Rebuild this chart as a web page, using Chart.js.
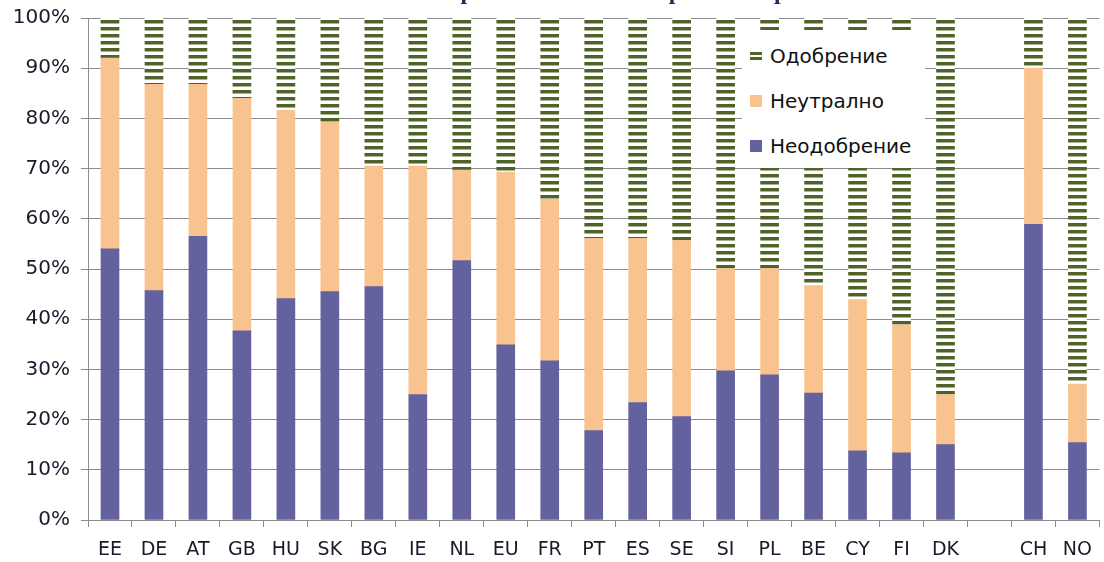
<!DOCTYPE html>
<html>
<head>
<meta charset="utf-8">
<script src="https://cdn.jsdelivr.net/npm/chart.js@4/dist/chart.umd.min.js"></script>
<style>
  html, body { margin: 0; padding: 0; background: #fff; }
  #wrap { position: relative; width: 1104px; height: 562px; overflow: hidden; }
  #chart { position: absolute; left: 0; top: -22px; }
  #legend {
    position: absolute; left: 742px; top: 30px; width: 183px; height: 138px;
    background: #fff; font-family: "DejaVu Sans", Verdana, sans-serif; font-size: 20px; color: #111;
  }
  .item { position: absolute; left: 8px; height: 20px; line-height: 20px; }
  .item span.mk { position: absolute; left: 0; top: 4px; width: 12px; height: 12px; }
  .item span.tx { position: absolute; left: 20px; top: 0; white-space: nowrap; }
</style>
</head>
<body>
<div id="wrap">
  <canvas id="chart" width="1104" height="584"></canvas>
  <div id="legend"></div>
</div>
<script>
// данни
const categories   = ['EE','DE','AT','GB','HU','SK','BG','IE','NL','EU','FR','PT','ES','SE','SI','PL','BE','CY','FI','DK','','CH','NO'];
const neodobrenie  = [54, 45.7, 56.5, 37.7, 44.1, 45.5, 46.5, 25, 51.7, 34.9, 31.7, 17.8, 23.4, 20.6, 29.7, 28.9, 25.3, 13.8, 13.4, 15, null, 58.9, 15.4];
const neutralno    = [38, 41.1, 30.3, 46.3, 37.5, 33.7, 24, 45.5, 18, 34.4, 32.2, 38.3, 32.7, 35.1, 20.4, 21.2, 21.4, 30.1, 25.5, 10, null, 31.1, 11.7];
const odobrenie    = [8, 13.2, 13.2, 16, 18.4, 20.8, 29.5, 29.5, 30.3, 30.7, 36.1, 43.9, 43.9, 44.3, 49.9, 49.9, 53.3, 56.1, 61.1, 75, null, 10, 72.9];
const yTicks       = [0, 10, 20, 30, 40, 50, 60, 70, 80, 90, 100];
const title        = 'Отношение към работа на непълно работно време';

const BLUE = '#63629e', PEACH = '#f9c38f', GREEN = '#4f6228';

// райе за „Одобрение“
function stripes() {
  const c = document.createElement('canvas');
  c.width = 8; c.height = 7;
  const g = c.getContext('2d');
  g.fillStyle = '#ffffff'; g.fillRect(0, 0, 8, 7);
  g.fillStyle = GREEN;     g.fillRect(0, 0, 8, 3);
  g.fillStyle = '#a9b496'; g.fillRect(0, 3, 8, 1);
  return g.createPattern(c, 'repeat');
}
const greenPattern = stripes();

const chart = new Chart(document.getElementById('chart'), {
  type: 'bar',
  data: {
    labels: categories,
    datasets: [
      { label: 'Неодобрение', data: neodobrenie, backgroundColor: BLUE },
      { label: 'Неутрално',   data: neutralno,   backgroundColor: PEACH },
      { label: 'Одобрение',   data: odobrenie,   backgroundColor: greenPattern }
    ]
  },
  options: {
    responsive: false,
    animation: false,
    layout: { padding: 0 },
    datasets: { bar: { barThickness: 18, borderWidth: 0 } },
    scales: {
      x: {
        stacked: true,
        afterFit: s => { s.height = 42; },
        border: { color: '#8c8c8c' },
        grid: { drawOnChartArea: false, tickLength: 7, color: '#8c8c8c' },
        ticks: { padding: 12, color: '#1a1a2a', font: { family: 'DejaVu Sans', size: 19 }, maxRotation: 0, autoSkip: false }
      },
      y: {
        stacked: true,
        min: 0, max: 100,
        afterFit: s => { s.width = 88; },
        afterBuildTicks: s => { s.ticks = yTicks.map(v => ({ value: v })); },
        border: { color: '#8c8c8c' },
        grid: { color: '#8c8c8c', tickLength: 7 },
        ticks: { padding: 11, color: '#1a1a2a', font: { family: 'DejaVu Sans', size: 20 }, callback: v => v + '%' }
      }
    },
    plugins: {
      legend: { display: false },
      tooltip: { enabled: false },
      title: {
        display: true, text: title, color: '#1f2a5c',
        font: { family: 'Liberation Serif', size: 24, weight: 'bold', lineHeight: 1.2 },
        padding: { top: 0, bottom: 11.2 }
      }
    }
  }
});

// легенда
const legendItems = [
  { text: 'Одобрение',   mk: 'background: repeating-linear-gradient(to bottom, ' + GREEN + ' 0 3px, #fff 3px 5px); height: 8px; top: 6px;' },
  { text: 'Неутрално',   mk: 'background:' + PEACH + ';' },
  { text: 'Неодобрение', mk: 'background:' + BLUE + ';' }
];
const lg = document.getElementById('legend');
legendItems.forEach((it, i) => {
  const d = document.createElement('div');
  d.className = 'item';
  d.style.top = (16 + i * 45) + 'px';
  d.innerHTML = '<span class="mk" style="' + it.mk + '"></span><span class="tx">' + it.text + '</span>';
  lg.appendChild(d);
});
</script>
</body>
</html>
